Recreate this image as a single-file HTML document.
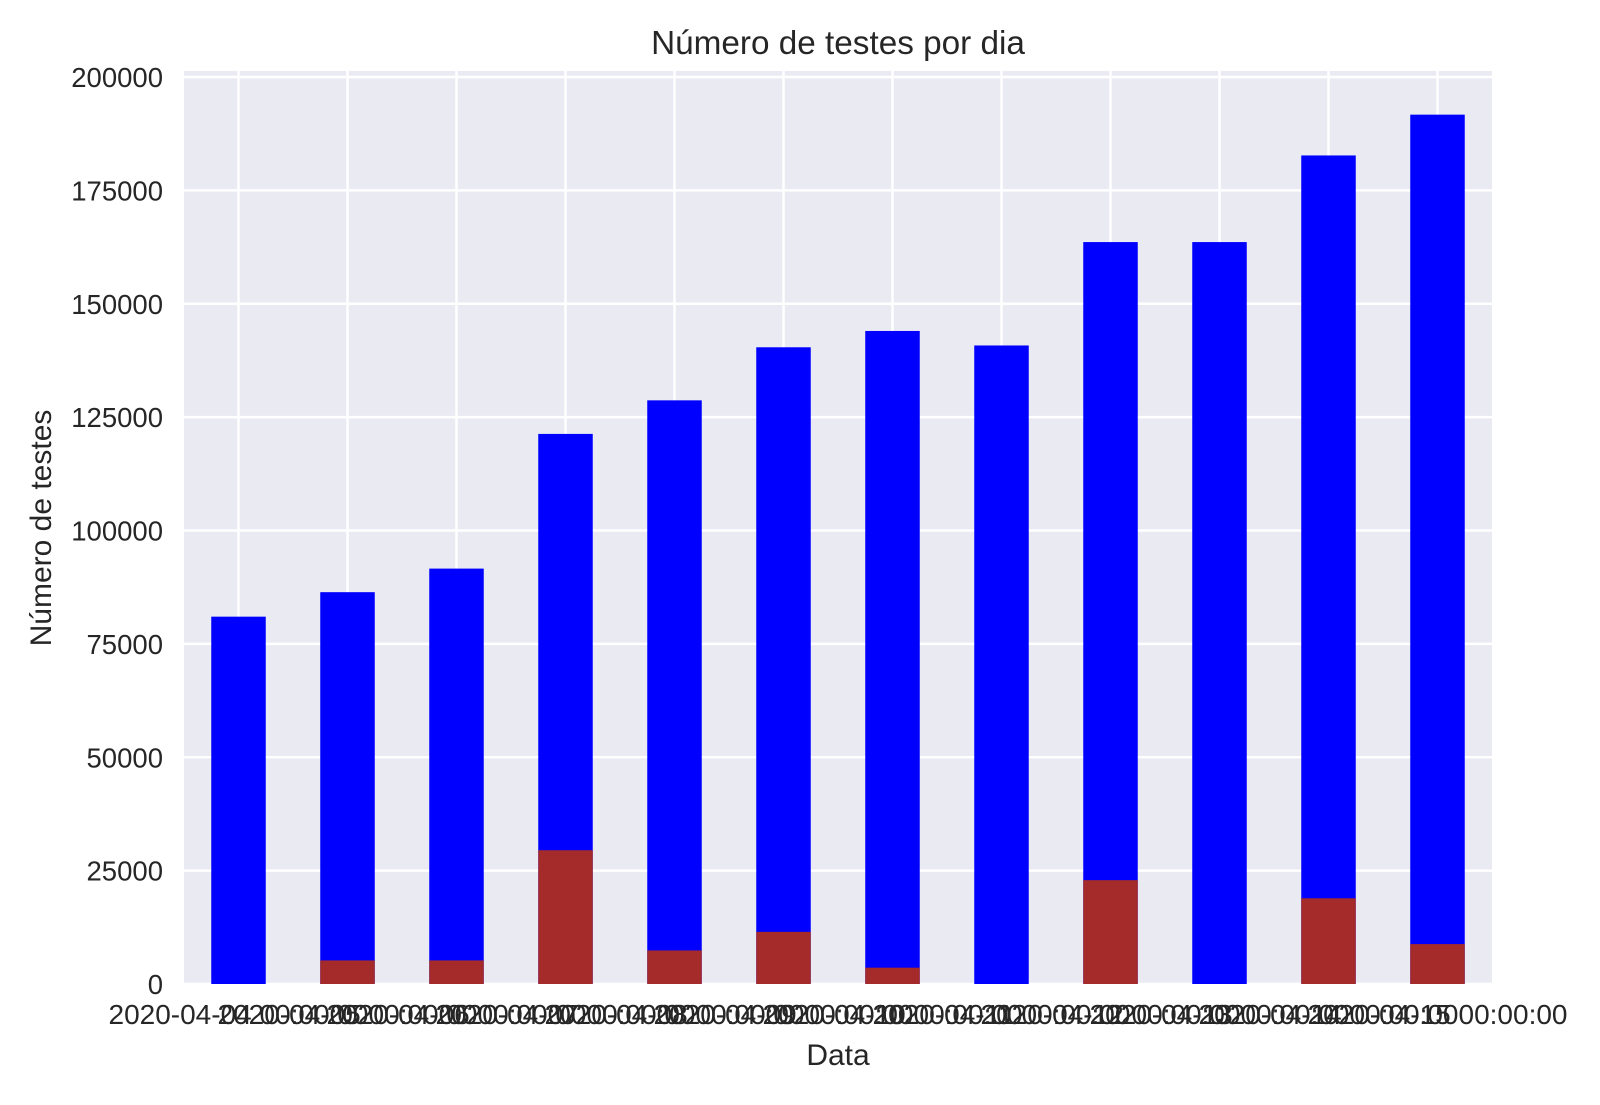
<!DOCTYPE html>
<html><head><meta charset="utf-8"><style>
body{margin:0;background:#fff;}
svg text{font-family:"Liberation Sans",Arial,sans-serif;fill:#262626;}
</style></head><body>
<svg id="chart" width="1600" height="1100" xmlns="http://www.w3.org/2000/svg">
<rect x="184" y="71" width="1308" height="913" fill="#eaeaf2"/>
<g id="grid"></g><g id="bars"></g><g id="xticks"></g><g id="yticks"></g>
<text x="838" y="54" font-size="33.3" text-anchor="middle">Número de testes por dia</text>
<text x="838" y="1065" font-size="30" text-anchor="middle">Data</text>
<text transform="translate(51,528) rotate(-90)" font-size="30" text-anchor="middle">Número de testes</text>
</svg>
<script>
const categories=["2020-04-04 00:00:00","2020-04-05 00:00:00","2020-04-06 00:00:00","2020-04-07 00:00:00","2020-04-08 00:00:00","2020-04-09 00:00:00","2020-04-10 00:00:00","2020-04-11 00:00:00","2020-04-12 00:00:00","2020-04-13 00:00:00","2020-04-14 00:00:00","2020-04-15 00:00:00"];
const totalTests=[81000,86400,91600,121300,128700,140400,144000,140800,163600,163600,182700,191700];
const positiveTests=[0,5200,5200,29500,7400,11500,3600,0,22900,0,18900,8800];
const yTicks=[0,25000,50000,75000,100000,125000,150000,175000,200000];
const NS="http://www.w3.org/2000/svg";
const L=184,R=1492,B=984;
const xs=i=>L+(i+0.5)*(R-L)/categories.length;
const ys=v=>B-v*(B-77)/200000;
const bw=0.5*(R-L)/categories.length;
function mk(tag,attrs,parent){const e=document.createElementNS(NS,tag);for(const k in attrs)e.setAttribute(k,attrs[k]);document.getElementById(parent).appendChild(e);return e;}
yTicks.forEach(t=>{
  const g=mk('line',{x1:L,x2:R,y1:ys(t),y2:ys(t),stroke:'#fff','stroke-width':2.5},'grid');
  
  
  const tx=mk('text',{x:163,y:ys(t)+10,'font-size':27.5,'text-anchor':'end'},'yticks');
  tx.textContent=t;
  
  
});
categories.forEach((c,i)=>{
  const g=mk('line',{x1:xs(i),x2:xs(i),y1:71,y2:B,stroke:'#fff','stroke-width':2.5},'grid');
  
  
  const b=mk('rect',{x:xs(i)-bw/2,y:ys(totalTests[i]),width:bw,height:B-ys(totalTests[i]),fill:'#0000ff'},'bars');
  
  
  if(positiveTests[i]>0){
    const r=mk('rect',{x:xs(i)-bw/2,y:ys(positiveTests[i]),width:bw,height:B-ys(positiveTests[i]),fill:'#a52a2a'},'bars');
    
    
  }
  const tx=mk('text',{x:xs(i),y:1024,'font-size':28,'text-anchor':'middle'},'xticks');
  tx.textContent=c;
  
  
});
</script>
</body></html>
